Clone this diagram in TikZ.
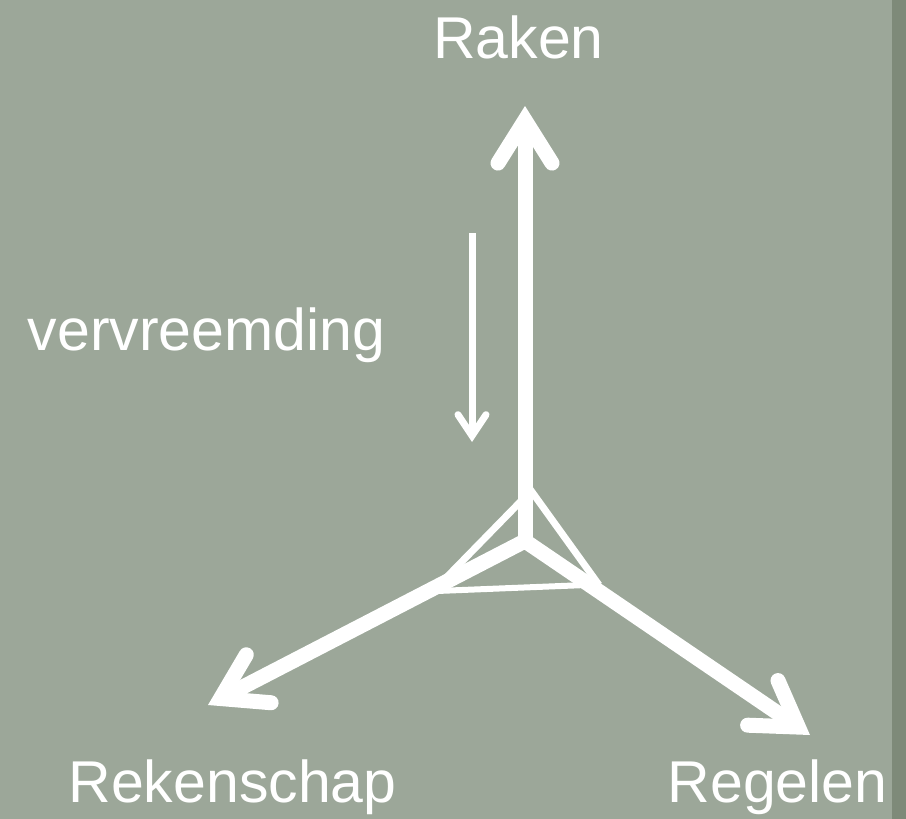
\documentclass[tikz,border=0pt]{standalone}
\usepackage{fontspec}
\setmainfont{Liberation Sans}
\usetikzlibrary{arrows.meta}
\definecolor{sage}{RGB}{156,167,153}
\definecolor{sagedark}{RGB}{126,138,121}

\begin{document}
\begin{tikzpicture}[x=1pt, y=-1pt,
  bigbarb/.tip={Straight Barb[length=43pt, width=54pt, line cap=round, line join=miter]},
  smallbarb/.tip={Straight Barb[length=21pt, width=28pt, line cap=round, line join=miter]},
  axis/.style={white, line width=15pt, line join=miter},
  label/.style={white, anchor=base, inner sep=0pt, font=\fontsize{59}{70}\selectfont}]

%background
\fill[sage] (0,0) rectangle (906,819);
\fill[sagedark] (892,0) rectangle (906,819);

\coordinate (zero) at (525,541);
\coordinate (up) at (525,106);
\coordinate (lo) at (208,705);
\coordinate (ro) at (810,735);

%triangle
\coordinate (t1) at (524,498);
\coordinate (t2) at (527,485);
\coordinate (l1) at (440,584);
\coordinate (r1) at (599,585);
\coordinate (l2) at (437,591);
\coordinate (r2) at (586,585);

\draw[white, line width=7pt] (t1) -- (l1);
\draw[white, line width=7pt] (t2) -- (r1);
\draw[white, line width=6pt] (l2) -- (r2);

%axes
\draw[axis, {bigbarb}-{bigbarb}] (lo) -- (zero) -- (ro);
\draw[axis, -{bigbarb}] (zero) -- (up);

\coordinate (v0) at (472,233);
\coordinate (v1) at (472,442);
\draw[white, line width=7pt, -{smallbarb}] (v0) -- (v1);

\node[label] (raken) at (518.5,58) {Raken};
\node[label] (vervr) at (206.5,350) {vervreemding};
\node[label] (reken) at (232.5,802) {Rekenschap};
\node[label] (regel) at (777.5,802) {Regelen};

\end{tikzpicture}
\end{document}
